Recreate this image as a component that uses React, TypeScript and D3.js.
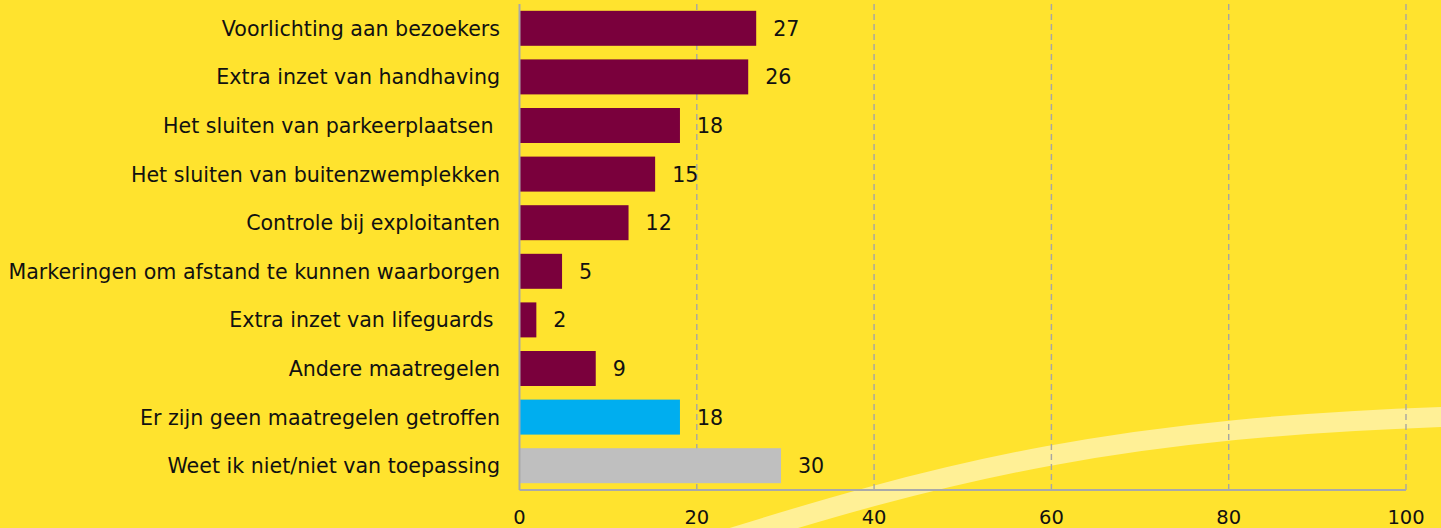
import React from "react";
import * as d3 from "d3";

const categories = [
  "Voorlichting aan bezoekers",
  "Extra inzet van handhaving",
  "Het sluiten van parkeerplaatsen ",
  "Het sluiten van buitenzwemplekken",
  "Controle bij exploitanten",
  "Markeringen om afstand te kunnen waarborgen",
  "Extra inzet van lifeguards ",
  "Andere maatregelen",
  "Er zijn geen maatregelen getroffen",
  "Weet ik niet/niet van toepassing",
];
const values = [26.7, 25.8, 18.1, 15.3, 12.3, 4.8, 1.9, 8.6, 18.1, 29.5];
const valueLabels = ["27", "26", "18", "15", "12", "5", "2", "9", "18", "30"];
const groups = ["m", "m", "m", "m", "m", "m", "m", "m", "none", "dk"];
const xTicks = [0, 20, 40, 60, 80, 100];

const W = 1441;
const H = 528;
const colorMap: Record<string, string> = { m: "#7A003C", none: "#00AEEF", dk: "#BFBFBF" };
const FONT = "'DejaVu Sans', Verdana, sans-serif";
const FS = 20.6;

export default function App() {
  const x = d3.scaleLinear().domain([0, 100]).range([519.5, 1406]);
  const y = d3.scaleBand<string>().domain(categories).range([4, 490]).paddingInner(0.28).paddingOuter(0.14);
  // decorative background swoosh (not data)
  const p = d3.path();
  p.moveTo(690, 551);
  p.bezierCurveTo(950, 468, 1120, 426.5, 1470, 416);
  const arc = p.toString();
  return (
    <svg width={W} height={H} style={{ position: "absolute", left: 0, top: 0, display: "block" }}>
      <rect x={0} y={0} width={W} height={H} fill="#FFE32E" />
      <path d={arc} fill="none" stroke="#FFF096" strokeWidth={20} />
      {xTicks.slice(1).map((t) => (
        <line key={t} x1={x(t)} x2={x(t)} y1={4} y2={490} stroke="#A5A5A5" strokeWidth={1.4} strokeDasharray="6,4" />
      ))}
      {categories.map((c, i) => (
        <rect key={c} x={x(0)} y={y(c)} width={x(values[i]) - x(0)} height={y.bandwidth()} fill={colorMap[groups[i]]} />
      ))}
      <line x1={x(0)} x2={x(0)} y1={4} y2={490} stroke="#A9A9A9" strokeWidth={2} />
      <line x1={x(0)} x2={x(100)} y1={490} y2={490} stroke="#A9A9A9" strokeWidth={2} />
      {categories.map((c, i) => (
        <text key={"l" + c} x={500} y={y(c)! + y.bandwidth() / 2} dy="0.36em" textAnchor="end" fontFamily={FONT} fontSize={FS} fill="#111" style={{ whiteSpace: "pre" }}>
          {c}
        </text>
      ))}
      {categories.map((c, i) => (
        <text key={"v" + c} x={x(values[i]) + 17} y={y(c)! + y.bandwidth() / 2} dy="0.36em" fontFamily={FONT} fontSize={FS} fill="#111">
          {valueLabels[i]}
        </text>
      ))}
      {xTicks.map((t) => (
        <text key={"t" + t} x={x(t)} y={524} textAnchor="middle" fontFamily={FONT} fontSize={19.5} fill="#111">
          {t}
        </text>
      ))}
    </svg>
  );
}
